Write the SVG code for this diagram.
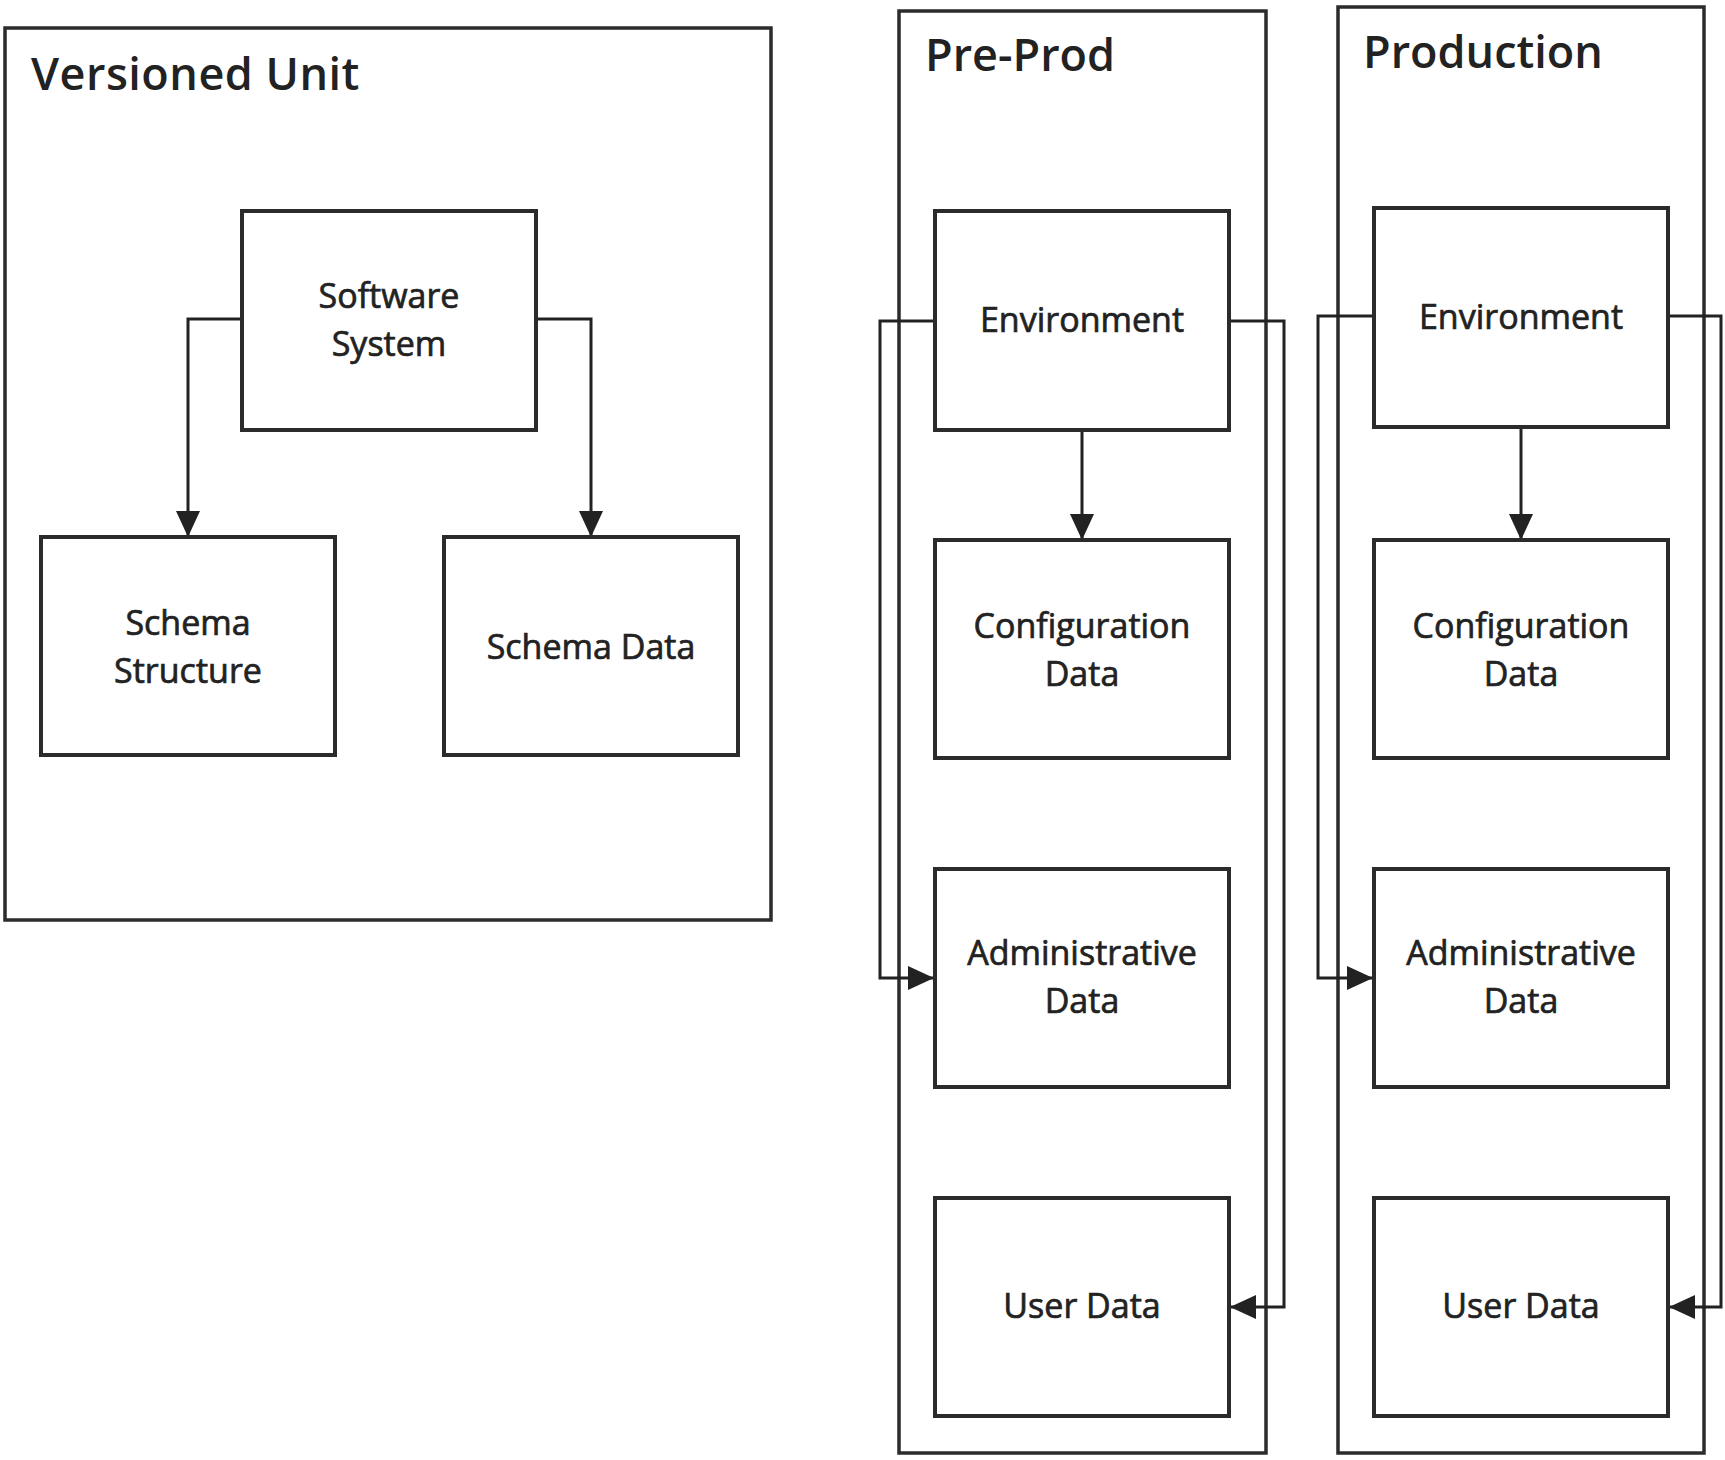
<svg xmlns="http://www.w3.org/2000/svg" width="1725" height="1460" viewBox="0 0 1725 1460">
<defs>
<marker id="ah" markerWidth="26" markerHeight="24" refX="26" refY="12" orient="auto" markerUnits="userSpaceOnUse">
<path d="M0,0 L26,12 L0,24 Z" fill="#222"/>
</marker>
<style>
.frame{fill:none;stroke:#2b2b2b;stroke-width:3.5}
.box{fill:#fff;stroke:#2b2b2b;stroke-width:4}
.t{font-family:"Open Sans","Liberation Sans",sans-serif;font-size:34px;font-weight:400;fill:#222;stroke:#222;stroke-width:0.7;text-anchor:middle}
.title{font-family:"Open Sans","Liberation Sans",sans-serif;font-size:45px;font-weight:600;fill:#222}
.c{fill:none;stroke:#222;stroke-width:3;marker-end:url(#ah)}
</style>
</defs>
<rect width="1725" height="1460" fill="#fff"/>
<g id="versioned-unit">
<rect class="frame" x="5" y="28" width="766" height="892"/>
<text class="title" x="31" y="90" letter-spacing="0.5">Versioned Unit</text>
</g>
<g id="pre-prod">
<rect class="frame" x="899" y="11" width="367" height="1442"/>
<text class="title" x="925" y="71" font-size="43">Pre-Prod</text>
</g>
<g id="production">
<rect class="frame" x="1338" y="7" width="366" height="1446"/>
<text class="title" x="1363" y="68" font-size="43">Production</text>
</g>
<g id="connectors">
<path class="c" d="M242,319 H188 V537"/>
<path class="c" d="M536,319 H591 V537"/>
<path class="c" d="M1082,430 V540"/>
<path class="c" d="M935,321 H880 V978 H934"/>
<path class="c" d="M1229,321 H1284 V1307 H1230"/>
<path class="c" d="M1521,427 V540"/>
<path class="c" d="M1374,316 H1318 V978 H1373"/>
<path class="c" d="M1668,316 H1721 V1307 H1669"/>
</g>
<g id="software-system">
<rect class="box" x="242" y="211" width="294" height="219"/>
<text class="t" x="389" y="308">Software</text>
<text class="t" x="389" y="356">System</text>
</g>
<g id="schema-structure">
<rect class="box" x="41" y="537" width="294" height="218"/>
<text class="t" x="188" y="635">Schema</text>
<text class="t" x="188" y="683">Structure</text>
</g>
<g id="schema-data">
<rect class="box" x="444" y="537" width="294" height="218"/>
<text class="t" x="591" y="659">Schema Data</text>
</g>
<g id="pp-environment">
<rect class="box" x="935" y="211" width="294" height="219"/>
<text class="t" x="1082" y="332">Environment</text>
</g>
<g id="pp-configuration">
<rect class="box" x="935" y="540" width="294" height="218"/>
<text class="t" x="1082" y="638">Configuration</text>
<text class="t" x="1082" y="686">Data</text>
</g>
<g id="pp-administrative">
<rect class="box" x="935" y="869" width="294" height="218"/>
<text class="t" x="1082" y="965">Administrative</text>
<text class="t" x="1082" y="1013">Data</text>
</g>
<g id="pp-user">
<rect class="box" x="935" y="1198" width="294" height="218"/>
<text class="t" x="1082" y="1318">User Data</text>
</g>
<g id="pr-environment">
<rect class="box" x="1374" y="208" width="294" height="219"/>
<text class="t" x="1521" y="329">Environment</text>
</g>
<g id="pr-configuration">
<rect class="box" x="1374" y="540" width="294" height="218"/>
<text class="t" x="1521" y="638">Configuration</text>
<text class="t" x="1521" y="686">Data</text>
</g>
<g id="pr-administrative">
<rect class="box" x="1374" y="869" width="294" height="218"/>
<text class="t" x="1521" y="965">Administrative</text>
<text class="t" x="1521" y="1013">Data</text>
</g>
<g id="pr-user">
<rect class="box" x="1374" y="1198" width="294" height="218"/>
<text class="t" x="1521" y="1318">User Data</text>
</g>
</svg>
